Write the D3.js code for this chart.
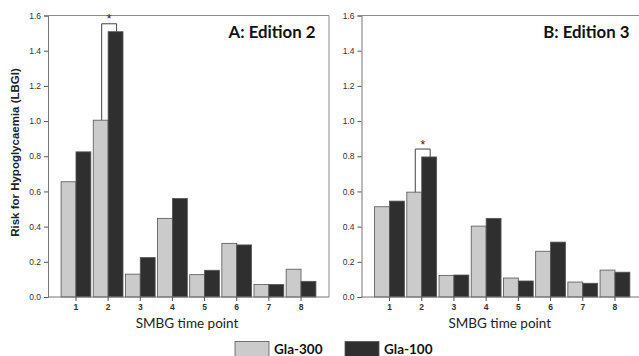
<!DOCTYPE html>
<html>
<head>
<meta charset="utf-8">
<script src="https://cdn.jsdelivr.net/npm/d3@7"></script>
<style>
  html, body { margin: 0; padding: 0; background: #fff; }
  svg { display: block; }
</style>
</head>
<body>
<svg id="chart" width="639" height="356"></svg>
<script>
// SMBG time points on the x axis
const timePoints = ["1", "2", "3", "4", "5", "6", "7", "8"];
const seriesNames = ["Gla-300", "Gla-100"];
const yTicks = [0, 0.2, 0.4, 0.6, 0.8, 1.0, 1.2, 1.4, 1.6];

// LBGI per time point, Edition 2
const ed2Gla300 = [0.655, 1.005, 0.13, 0.447, 0.127, 0.305, 0.071, 0.158];
const ed2Gla100 = [0.825, 1.508, 0.224, 0.56, 0.152, 0.296, 0.071, 0.089];
// LBGI per time point, Edition 3
const ed3Gla300 = [0.513, 0.596, 0.123, 0.403, 0.108, 0.26, 0.085, 0.153];
const ed3Gla100 = [0.545, 0.796, 0.125, 0.447, 0.091, 0.312, 0.078, 0.141];

// time points with a significant difference (index)
const ed2Significant = [1];
const ed3Significant = [1];

const colors = ["#cbcbcb", "#2f2f2f"];
const svg = d3.select("#chart");

const panels = [
  { title: "A: Edition 2", left: 48, right: 329, data: [ed2Gla300, ed2Gla100], sig: ed2Significant },
  { title: "B: Edition 3", left: 361.5, right: 643, data: [ed3Gla300, ed3Gla100], sig: ed3Significant }
];

const plotTop = 15.5, plotBottom = 297;
const y = d3.scaleLinear().domain([0, 1.6]).range([plotBottom, plotTop]);

panels.forEach(p => {
  const g = svg.append("g");
  const x = d3.scaleBand().domain(timePoints).range([p.left, p.right]).paddingInner(0).paddingOuter(0.37);
  const inner = d3.scaleBand().domain(seriesNames).range([0, x.bandwidth()]).paddingInner(0).paddingOuter(0.08);

  // frame: top and right edges
  g.append("path")
    .attr("d", `M${p.left},${plotTop}H${p.right}V${plotBottom}`)
    .attr("fill", "none").attr("stroke", "#8a8a8a").attr("stroke-width", 1);

  // bars
  seriesNames.forEach((s, si) => {
    g.selectAll(null).data(p.data[si]).enter().append("rect")
      .attr("x", (d, i) => x(timePoints[i]) + inner(s))
      .attr("y", d => y(d))
      .attr("width", inner.bandwidth())
      .attr("height", d => y(0) - y(d))
      .attr("fill", colors[si])
      .attr("stroke", "#555").attr("stroke-width", 0.8);
  });

  // y axis
  const ya = g.append("g").attr("transform", `translate(${p.left},0)`)
    .call(d3.axisLeft(y).tickValues(yTicks).tickFormat(d3.format(".1f")).tickSize(4).tickPadding(3));
  ya.select(".domain").attr("stroke", "#777");
  ya.selectAll(".tick line").attr("stroke", "#555");
  ya.selectAll("text").attr("font-family", "Liberation Sans, Arial, sans-serif")
    .attr("font-size", 8.5).attr("fill", "#333");

  // x axis
  const xa = g.append("g").attr("transform", `translate(0,${plotBottom})`)
    .call(d3.axisBottom(x).tickSize(4).tickPadding(3));
  xa.select(".domain").attr("d", `M${p.left},0H${p.right}`).attr("stroke", "#777");
  xa.selectAll(".tick line").attr("stroke", "#555");
  xa.selectAll("text").attr("font-family", "Liberation Sans, Arial, sans-serif")
    .attr("font-size", 8.5).attr("font-weight", "bold").attr("fill", "#333");

  // x axis title
  g.append("text")
    .attr("x", (p.left + p.right) / 2 - 1.5 + (p.left > 100 ? -1 : 0))
    .attr("y", 328)
    .attr("text-anchor", "middle")
    .attr("font-family", "Lato, sans-serif").attr("font-size", 13.5).attr("fill", "#222")
    .text("SMBG time point");

  // panel title
  g.append("text")
    .attr("x", p.right - 13.5)
    .attr("y", 37.5)
    .attr("text-anchor", "end")
    .attr("font-family", "Lato, sans-serif").attr("font-size", 16.8).attr("font-weight", "bold").attr("fill", "#111")
    .text(p.title);

  // significance brackets
  p.sig.forEach(i => {
    const cx0 = x(timePoints[i]) + inner(seriesNames[0]) + inner.bandwidth() / 2 + 1;
    const cx1 = x(timePoints[i]) + inner(seriesNames[1]) + inner.bandwidth() / 2 + 1;
    const v0 = p.data[0][i], v1 = p.data[1][i];
    const yb = y(Math.max(v0, v1) + 0.045);
    g.append("path")
      .attr("d", `M${cx0},${y(v0)}V${yb}H${cx1}V${y(v1)}`)
      .attr("fill", "none").attr("stroke", "#444").attr("stroke-width", 1);
    g.append("text")
      .attr("x", (cx0 + cx1) / 2).attr("y", yb - 0.5)
      .attr("text-anchor", "middle")
      .attr("font-family", "Liberation Sans, Arial, sans-serif").attr("font-size", 12).attr("fill", "#222")
      .text("*");
  });
});

// y axis title
svg.append("text")
  .attr("transform", "translate(19,152.5) rotate(-90)")
  .attr("text-anchor", "middle")
  .attr("font-family", "Liberation Sans, Arial, sans-serif").attr("font-size", 11.5).attr("font-weight", "bold").attr("fill", "#222")
  .text("Risk for Hypoglycaemia (LBGI)");

// legend
const legendX = [235, 345];
seriesNames.forEach((s, i) => {
  svg.append("rect").attr("x", legendX[i]).attr("y", 341.5).attr("width", 34).attr("height", 16)
    .attr("fill", colors[i]).attr("stroke", "#555").attr("stroke-width", 0.8);
  svg.append("text").attr("x", legendX[i] + 39).attr("y", 354)
    .attr("font-family", "Lato, sans-serif").attr("font-size", 13.5).attr("font-weight", "bold").attr("fill", "#111")
    .text(s);
});
</script>
</body>
</html>
